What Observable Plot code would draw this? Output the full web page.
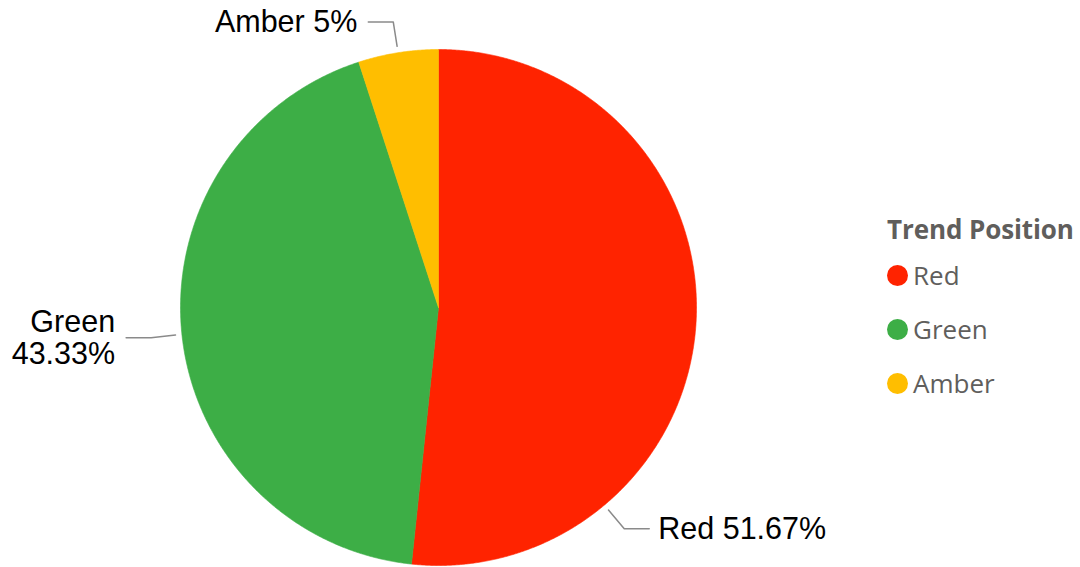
<!DOCTYPE html>
<html>
<head>
<meta charset="utf-8">
<script src="https://cdn.jsdelivr.net/npm/d3@7"></script>
<script src="https://cdn.jsdelivr.net/npm/@observablehq/plot@0.6"></script>
<style>
  html, body { margin: 0; padding: 0; background: #fff; }
  #wrap { position: relative; width: 1080px; height: 567px; overflow: hidden; }
  #legend { position: absolute; left: 887px; top: 210px; font-family: "Open Sans", "Noto Sans", sans-serif; color: #605E5C; }
  #legend .title { font-weight: 700; font-size: 26px; line-height: 38px; white-space: nowrap; letter-spacing: -0.1px; }
  #legend .item { display: flex; align-items: center; height: 54px; font-size: 26px; }
  #legend .dot { width: 21px; height: 21px; border-radius: 50%; margin-right: 5px; }
</style>
</head>
<body>
<div id="wrap"><div id="chart"></div><div id="legend"></div></div>
<script>
// ---- data ----
const categories = ["Red", "Green", "Amber"];
const shares = [51.67, 43.33, 5];
const colors = ["#FF2300", "#3DAE46", "#FFBE00"];
const legendTitle = "Trend Position";
// leader angle overrides (degrees clockwise from top); null = slice mid-angle
const leaderAngles = [140, null, null];

// ---- geometry via d3.pie ----
const pie = d3.pie().sort(null).value(d => d.value).startAngle(0).endAngle(2 * Math.PI);
const rows = categories.map((c, i) => ({name: c, value: shares[i]}));
const arcs = pie(rows);

const pts = [];
for (const a of arcs) {
  pts.push({name: a.data.name, x: 0, y: 0});
  const n = Math.max(2, Math.ceil((a.endAngle - a.startAngle) / 0.005));
  for (let k = 0; k <= n; k++) {
    const t = a.startAngle + (a.endAngle - a.startAngle) * k / n;
    pts.push({name: a.data.name, x: Math.sin(t), y: Math.cos(t)});
  }
  pts.push({name: a.data.name, x: 0, y: 0});
}

const R = 258; // px per unit
const r0 = 1.025, r1 = 1.12, hlen = 25 / R, gap = 9 / R;
const leaders = [], labels = [];
arcs.forEach((a, i) => {
  const ang = leaderAngles[i] != null ? leaderAngles[i] * Math.PI / 180 : (a.startAngle + a.endAngle) / 2;
  const sx = Math.sin(ang), sy = Math.cos(ang);
  const dir = sx >= 0 ? 1 : -1;
  const ex = sx * r1, ey = sy * r1;
  leaders.push({name: a.data.name, x: sx * r0, y: sy * r0});
  leaders.push({name: a.data.name, x: ex, y: ey});
  leaders.push({name: a.data.name, x: ex + dir * hlen, y: ey});
  const pct = `${+a.data.value.toFixed(2)}%`;
  const txt = a.data.name === "Green" ? `${a.data.name}\n${pct}` : `${a.data.name} ${pct}`;
  labels.push({text: txt, x: ex + dir * (hlen + gap + (dir < 0 ? 2 / R : 0)), y: ey, anchor: dir > 0 ? "start" : "end"});
});

const font = "'Liberation Sans', Arial, sans-serif";
const chart = Plot.plot({
  width: 1080,
  height: 567,
  margin: 0,
  x: {domain: [-1, 1], range: [180, 696], axis: null},
  y: {domain: [-1, 1], range: [565, 49], axis: null},
  color: {domain: categories, range: colors, legend: false},
  style: {background: "#fff"},
  marks: [
    Plot.line(pts, {x: "x", y: "y", z: "name", fill: "name", stroke: "name", strokeWidth: 0.6, curve: "linear"}),
    Plot.line(leaders, {x: "x", y: "y", z: "name", stroke: "#8a8a8a", strokeWidth: 1.5}),
    Plot.text(labels.filter(d => d.anchor === "start"), {x: "x", y: "y", text: "text", textAnchor: "start", lineAnchor: "middle", fontSize: 30.5, fill: "#000", fontFamily: font, lineHeight: 1.06}),
    Plot.text(labels.filter(d => d.anchor === "end"), {x: "x", y: "y", text: "text", textAnchor: "end", lineAnchor: "middle", fontSize: 30.5, fill: "#000", fontFamily: font, lineHeight: 1.06})
  ]
});
document.getElementById("chart").appendChild(chart);

// ---- legend ----
const lg = document.getElementById("legend");
const t = document.createElement("div");
t.className = "title"; t.textContent = legendTitle; lg.appendChild(t);
categories.forEach((c, i) => {
  const it = document.createElement("div"); it.className = "item";
  const d = document.createElement("div"); d.className = "dot"; d.style.background = colors[i];
  const s = document.createElement("span"); s.textContent = c;
  it.appendChild(d); it.appendChild(s); lg.appendChild(it);
});
</script>
</body>
</html>
